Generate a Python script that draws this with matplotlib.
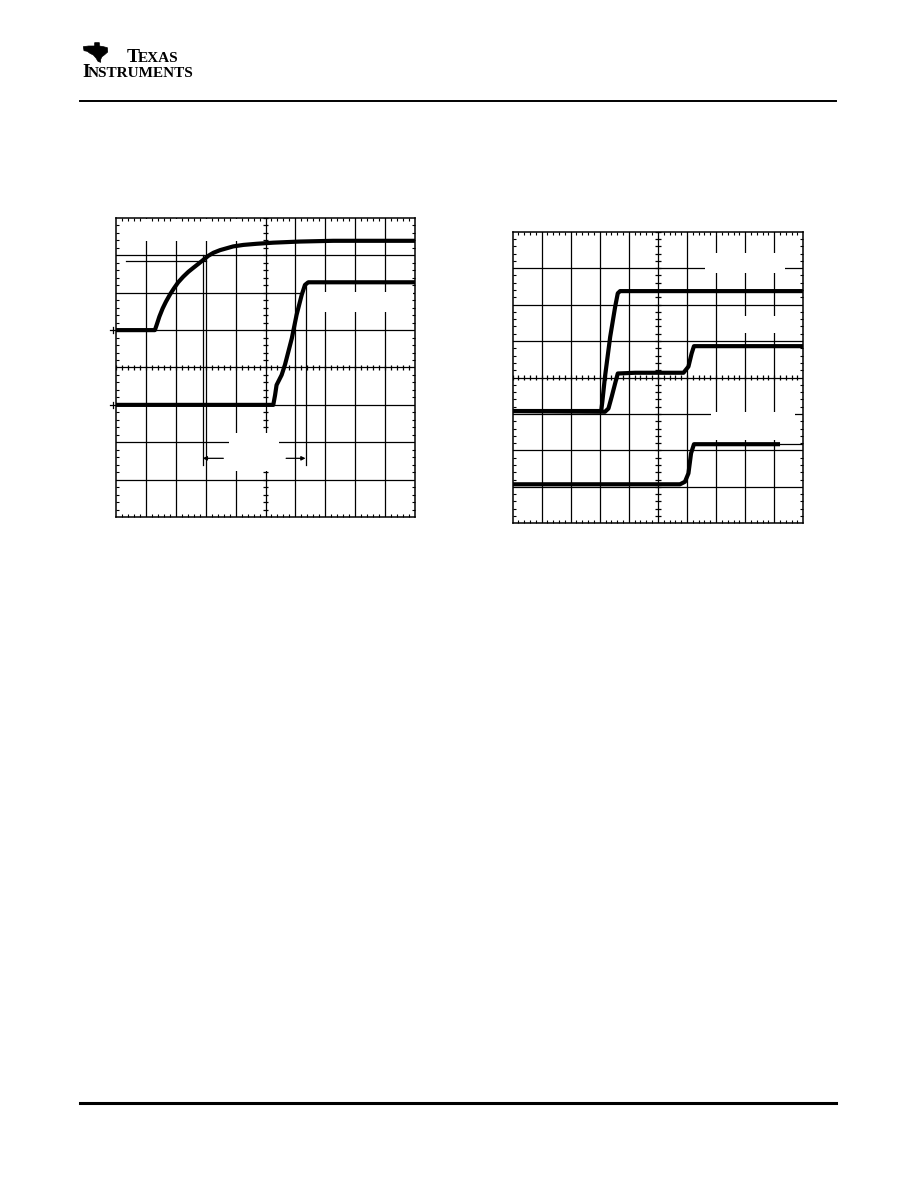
import numpy as np
import matplotlib
matplotlib.use("Agg")
import matplotlib.pyplot as plt
from matplotlib.patches import Rectangle, Polygon
from matplotlib.lines import Line2D

# scope traces, in screen divisions (10 x 8 graticule)
left_t1 = [0.0, 1.30, 1.36, 1.45, 1.56, 1.67, 1.81, 1.94, 2.08, 2.25, 2.42, 2.59, 2.75, 2.92,
           3.09, 3.26, 3.48, 3.70, 3.92, 4.26, 4.70, 5.26, 6.15, 7.27, 10.0]
left_v1 = [5.0, 5.0, 5.14, 5.36, 5.58, 5.76, 5.96, 6.12, 6.28, 6.43, 6.56, 6.67, 6.77, 6.88,
           6.99, 7.07, 7.14, 7.19, 7.24, 7.28, 7.31, 7.34, 7.37, 7.39, 7.39]
left_t2 = [0.0, 5.26, 5.32, 5.37, 5.54, 5.65, 5.88, 6.04, 6.21, 6.32, 6.43, 10.0]
left_v2 = [3.0, 3.0, 3.26, 3.53, 3.80, 4.07, 4.78, 5.41, 5.94, 6.21, 6.28, 6.28]
left_ground = [5.0, 3.0]

# cursors of the left screen
cursor_h = (0.33, 3.01, 6.84)          # x from, x to, level
cursor_x = [2.90, 6.34]
cursor_top = [7.0, 6.26]
cursor_bottom = 1.39
arrow_y = 1.57

right_tA = [0.0, 3.05, 3.09, 3.18, 3.36, 3.53, 3.62, 3.70, 10.0]
right_vA = [3.08, 3.08, 3.34, 4.02, 5.12, 5.94, 6.31, 6.37, 6.37]
right_tB = [0.0, 3.18, 3.30, 3.41, 3.53, 3.62, 4.22, 5.88, 6.05, 6.16, 6.24, 10.0]
right_vB = [3.08, 3.06, 3.15, 3.47, 3.84, 4.11, 4.13, 4.13, 4.30, 4.66, 4.86, 4.86]
right_tC = [0.0, 5.76, 5.93, 6.05, 6.14, 6.24, 9.20]
right_vC = [1.07, 1.07, 1.14, 1.37, 1.92, 2.17, 2.17]
right_tC_tail = [9.20, 10.0]
right_vC_tail = [2.17, 2.17]

# blanked label areas (x0, y0, x1, y1) in divisions
left_blanks = [(0.03, 7.38, 4.65, 7.97), (6.25, 5.48, 9.93, 6.02), (3.78, 1.23, 5.45, 2.25)]
right_blanks = [(6.62, 6.88, 9.37, 7.42), (7.25, 5.23, 9.85, 5.69), (6.83, 2.29, 9.71, 3.04)]

W, H = 918, 1188
fig = plt.figure(figsize=(W / 100, H / 100), dpi=100)


def px_rect(x0, y0, x1, y1):
    return [x0 / W, 1 - y1 / H, (x1 - x0) / W, (y1 - y0) / H]


def scope(rect, blanks):
    ax = fig.add_axes(rect)
    ax.set_xlim(0, 10)
    ax.set_ylim(0, 8)
    for x in range(1, 10):
        ax.plot([x, x], [0, 8], color="black", lw=0.9, zorder=0.5)
    for y in range(1, 8):
        ax.plot([0, 10], [y, y], color="black", lw=0.9, zorder=0.5)
    xs = np.arange(0, 10.01, 0.2)
    ys = np.arange(0, 8.01, 0.2)
    ax.vlines(xs, 4 - 0.08, 4 + 0.08, color="black", lw=0.9, zorder=0.5)
    ax.hlines(ys, 5 - 0.1, 5 + 0.1, color="black", lw=0.9, zorder=0.5)
    for x0, y0, x1, y1 in blanks:
        ax.add_patch(Rectangle((x0, y0), x1 - x0, y1 - y0, facecolor="white",
                               edgecolor="none", zorder=1))
    ax.set_xticks(range(11))
    ax.set_yticks(range(9))
    ax.set_xticks(xs, minor=True)
    ax.set_yticks(ys, minor=True)
    ax.tick_params(which="both", direction="in", top=True, right=True,
                   labelbottom=False, labelleft=False)
    ax.tick_params(which="major", length=0)
    ax.tick_params(which="minor", length=2.5, width=0.8)
    for s in ax.spines.values():
        s.set_linewidth(1.1)
    return ax


trace = dict(color="black", lw=3.0, solid_capstyle="butt", solid_joinstyle="round", zorder=3)

# left screen
axl = scope(px_rect(116, 218, 415, 517), left_blanks)
axl.plot(left_t1, left_v1, **trace)
axl.plot(left_t2, left_v2, **trace)
axl.plot(cursor_h[:2], [cursor_h[2]] * 2, color="black", lw=0.9, zorder=2)
for cx, ct in zip(cursor_x, cursor_top):
    axl.plot([cx, cx], [cursor_bottom, ct], color="black", lw=0.9, zorder=2)
axl.annotate("", xy=(cursor_x[0], arrow_y), xytext=(3.59, arrow_y),
             arrowprops=dict(arrowstyle="-|>", lw=0.9, color="black",
                             mutation_scale=6, shrinkA=0, shrinkB=0), zorder=2)
axl.annotate("", xy=(cursor_x[1], arrow_y), xytext=(5.69, arrow_y),
             arrowprops=dict(arrowstyle="-|>", lw=0.9, color="black",
                             mutation_scale=6, shrinkA=0, shrinkB=0), zorder=2)
for g in left_ground:
    axl.plot([-0.2, 0], [g, g], color="black", lw=0.9, clip_on=False)
    axl.plot([-0.1, -0.1], [g - 0.08, g + 0.08], color="black", lw=0.9, clip_on=False)

# right screen
axr = scope(px_rect(512.5, 231.7, 803.3, 523.3), right_blanks)
axr.plot(right_tA, right_vA, **trace)
axr.plot(right_tB, right_vB, **trace)
axr.plot(right_tC, right_vC, **trace)
axr.plot(right_tC_tail, right_vC_tail, color="black", lw=0.9, zorder=3)

# page header / footer
fig.add_artist(Line2D([80 / W, 836 / W], [1 - 101 / H] * 2, color="black", lw=1.4))
fig.add_artist(Line2D([80 / W, 836 / W], [1 - 1103 / H] * 2, color="black", lw=2.2))

logo_z = [(74, 38), (88, 38), (88, 48), (100, 50), (112, 53), (113, 66), (104, 74), (96, 80),
          (92, 88), (92, 97), (84, 94), (78, 84), (70, 75), (60, 70), (52, 64), (42, 62),
          (40, 50), (56, 48), (74, 48)]
logo = [((70 + a / 3) / W, 1 - (30 + b / 3) / H) for a, b in logo_z]
fig.add_artist(Polygon(logo, closed=True, facecolor="black", edgecolor="black",
                       lw=0.5, transform=fig.transFigure))
fig.text(127 / W, 1 - 62 / H, "T", fontsize=14, fontweight="bold", family="Liberation Serif",
         va="baseline")
fig.text(138 / W, 1 - 62 / H, "EXAS", fontsize=11, fontweight="bold", family="Liberation Serif",
         va="baseline")
fig.text(82 / W, 1 - 77 / H, "I", fontsize=14, fontweight="bold", family="Liberation Serif",
         va="baseline")
fig.text(88 / W, 1 - 77 / H, "NSTRUMENTS", fontsize=11, fontweight="bold",
         family="Liberation Serif", va="baseline")

fig.savefig("out.png", dpi=100)
